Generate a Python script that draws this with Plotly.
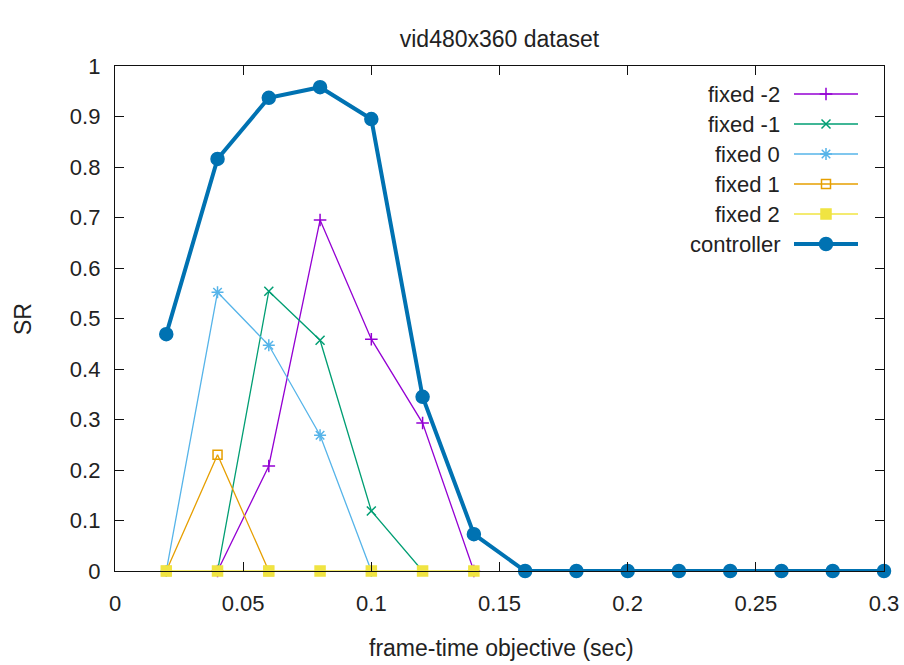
import plotly.graph_objects as go

# Frame-time objectives (sec)
x_controller = [0.02, 0.04, 0.06, 0.08, 0.10, 0.12, 0.14, 0.16, 0.18, 0.20,
                0.22, 0.24, 0.26, 0.28, 0.30]
sr_controller = [0.469, 0.816, 0.937, 0.958, 0.895, 0.345, 0.073, 0, 0, 0,
                 0, 0, 0, 0, 0]

x_fixed_m2 = [0.04, 0.06, 0.08, 0.10, 0.12, 0.14]
sr_fixed_m2 = [0, 0.208, 0.695, 0.459, 0.293, 0]

x_fixed_m1 = [0.04, 0.06, 0.08, 0.10, 0.12]
sr_fixed_m1 = [0, 0.554, 0.457, 0.119, 0]

x_fixed_0 = [0.02, 0.04, 0.06, 0.08, 0.10]
sr_fixed_0 = [0, 0.552, 0.447, 0.269, 0]

x_fixed_1 = [0.02, 0.04, 0.06]
sr_fixed_1 = [0, 0.230, 0]

x_fixed_2 = [0.02, 0.04, 0.06, 0.08, 0.10, 0.12, 0.14]
sr_fixed_2 = [0, 0, 0, 0, 0, 0, 0]

x_ticks = [0, 0.05, 0.1, 0.15, 0.2, 0.25, 0.3]
x_tick_labels = ["0", "0.05", "0.1", "0.15", "0.2", "0.25", "0.3"]
y_ticks = [0, 0.1, 0.2, 0.3, 0.4, 0.5, 0.6, 0.7, 0.8, 0.9, 1]
y_tick_labels = ["0", "0.1", "0.2", "0.3", "0.4", "0.5", "0.6", "0.7", "0.8", "0.9", "1"]

FONT = "Liberation Sans"
FS = 22
FS_TITLE = 23
TXT = "#222222"

# Plot area in pixels
L, R, T, B = 115, 884, 66, 571
W, H = R - L, B - T

series = [
    ("fixed -2", x_fixed_m2, sr_fixed_m2, "#9400d3", "cross-thin-open", 9, 1.3),
    ("fixed -1", x_fixed_m1, sr_fixed_m1, "#009e73", "x-thin-open", 9, 1.3),
    ("fixed 0", x_fixed_0, sr_fixed_0, "#56b4e9", "asterisk-open", 10, 1.3),
    ("fixed 1", x_fixed_1, sr_fixed_1, "#e69f00", "square-open", 9, 1.3),
    ("fixed 2", x_fixed_2, sr_fixed_2, "#f0e442", "square", 10, 1.3),
    ("controller", x_controller, sr_controller, "#0072b2", "circle", 13, 4),
]

fig = go.Figure()

for name, xs, ys, color, symbol, msize, lw in series:
    fig.add_trace(go.Scatter(
        x=xs, y=ys, mode="lines+markers", name=name,
        line=dict(color=color, width=lw),
        marker=dict(symbol=symbol, size=msize, color=color,
                    line=dict(color=color, width=1.5)),
        cliponaxis=False, showlegend=False,
    ))

# Key drawn in the top-right corner, gnuplot style (text, then sample)
key_y0, key_dy = 94, 30
for i, (name, xs, ys, color, symbol, msize, lw) in enumerate(series):
    ky = key_y0 + i * key_dy
    fig.add_trace(go.Scatter(
        x=[794, 826, 858], y=[ky, ky, ky], mode="lines",
        line=dict(color=color, width=lw), xaxis="x2", yaxis="y2",
        showlegend=False, hoverinfo="skip", cliponaxis=False,
    ))
    fig.add_trace(go.Scatter(
        x=[826], y=[ky], mode="markers",
        marker=dict(symbol=symbol, size=msize, color=color,
                    line=dict(color=color, width=1.5)),
        xaxis="x2", yaxis="y2", showlegend=False, hoverinfo="skip",
        cliponaxis=False,
    ))
    fig.add_annotation(
        x=781, y=ky, xref="x2", yref="y2", text=name, showarrow=False,
        xanchor="right", yanchor="middle", borderpad=0,
        font=dict(family=FONT, size=FS, color=TXT),
    )

# Axis titles
fig.add_annotation(
    x=(501 - L) / W, y=(B - 648) / H, xref="paper", yref="paper",
    text="frame-time objective (sec)", showarrow=False,
    xanchor="center", yanchor="middle", borderpad=0,
    font=dict(family=FONT, size=FS_TITLE, color=TXT),
)
fig.add_annotation(
    x=(23 - L) / W, y=(B - 319) / H, xref="paper", yref="paper",
    text="SR", textangle=-90, showarrow=False,
    xanchor="center", yanchor="middle", borderpad=0,
    font=dict(family=FONT, size=FS_TITLE, color=TXT),
)

axis_common = dict(
    showgrid=False, zeroline=False, showline=True, linecolor="#111111",
    linewidth=1.3, mirror="ticks", ticks="inside", ticklen=9,
    tickcolor="#111111", tickwidth=1.3, automargin=False,
    tickfont=dict(family=FONT, size=FS, color=TXT),
)

fig.update_layout(
    width=904, height=665,
    margin=dict(l=L, r=904 - R, t=T, b=665 - B),
    paper_bgcolor="white", plot_bgcolor="white",
    title=dict(text="vid480x360 dataset", x=0.5, xref="paper",
               xanchor="center", y=1 - 39 / 665, yanchor="middle",
               font=dict(family=FONT, size=FS_TITLE, color=TXT)),
    xaxis=dict(range=[0, 0.3], tickvals=x_ticks, ticktext=x_tick_labels,
               ticklabelstandoff=12, **axis_common),
    yaxis=dict(range=[0, 1], tickvals=y_ticks, ticktext=y_tick_labels,
               ticklabelstandoff=9, **axis_common),
    xaxis2=dict(range=[L, R], overlaying="x", anchor="y2", visible=False,
                fixedrange=True),
    yaxis2=dict(range=[B, T], overlaying="y", anchor="x2", visible=False,
                fixedrange=True),
)

fig.write_html("out.html")
